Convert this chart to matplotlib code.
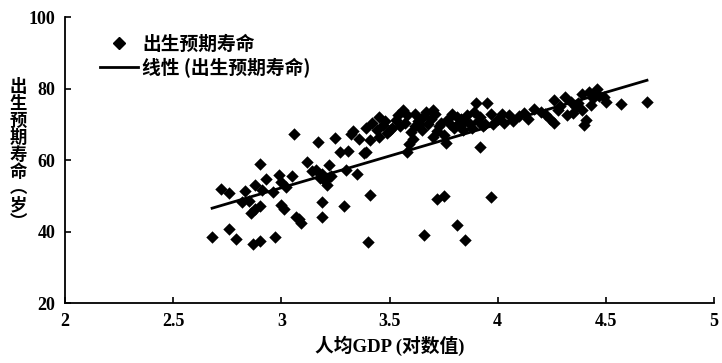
"""Life expectancy vs log GDP per capita, scatter with linear trend."""

import matplotlib

matplotlib.use("Agg")
import matplotlib.pyplot as plt  # noqa: E402
from matplotlib.lines import Line2D  # noqa: E402

# log10 GDP per capita and life expectancy (years)
log_gdp = [
    2.68, 2.72, 2.76, 2.76, 2.79, 2.83, 2.85, 2.82, 2.86, 2.88,
    2.90, 2.87, 2.90, 2.97, 2.90, 2.91, 2.93, 2.96, 2.99, 3.00,
    3.00, 3.01, 3.06, 3.07, 3.09, 3.08, 3.16, 3.17, 3.19, 3.19,
    3.18, 3.20, 3.21, 3.22, 3.19, 3.23, 3.25, 3.27, 3.29, 3.30,
    3.32, 3.35, 3.38, 3.39, 3.41, 3.40, 3.39, 3.42, 3.45, 3.44,
    3.45, 3.47, 3.49, 3.41, 3.48, 3.53, 3.56, 3.57, 3.58, 3.59,
    3.60, 3.62, 3.63, 3.65, 3.66, 3.66, 3.68, 3.70, 3.71, 3.72,
    3.73, 3.75, 3.75, 3.76, 3.77, 3.79, 3.80, 3.81, 3.82, 3.84,
    3.85, 3.86, 3.87, 3.89, 3.90, 3.92, 3.92, 3.93, 3.95, 3.97,
    3.97, 3.98, 4.00, 4.03, 4.05, 4.07, 4.10, 4.12, 4.17, 4.20,
    4.24, 4.26, 4.26, 4.31, 4.34, 4.36, 4.39, 4.42, 4.46, 4.49,
    4.50, 4.35, 4.39, 4.41, 4.40, 4.44, 4.47, 4.57, 4.69, 4.29,
    4.32, 3.31, 3.33, 3.36, 3.02, 3.05, 2.88, 3.12, 3.14, 3.51,
    3.54, 3.61, 3.67, 3.74, 3.83, 3.94, 4.02, 4.14, 4.22, 3.50,
    3.55, 3.58, 3.64, 3.69, 3.72, 3.78, 3.81, 3.85, 3.88, 3.91,
    3.62, 3.70, 4.37, 4.43, 4.45, 4.28,
]
life_exp = [
    38.6, 51.8, 50.8, 40.6, 37.8, 51.4, 48.6, 48.2, 45.2, 46.4,
    47.2, 36.4, 37.4, 38.5, 58.8, 51.6, 54.6, 51.0, 55.8, 53.8,
    47.4, 46.4, 67.3, 44.2, 42.4, 43.5, 57.2, 65.1, 48.3, 44.1,
    55.0, 54.2, 53.0, 58.6, 56.0, 55.5, 66.3, 62.3, 47.1, 57.2,
    67.4, 56.2, 61.9, 62.3, 50.2, 37.1, 68.9, 70.3, 72.1, 68.4,
    66.5, 69.8, 67.5, 65.6, 71.0, 71.2, 74.0, 70.5, 62.3, 64.5,
    67.8, 69.5, 71.0, 68.5, 39.0, 72.2, 70.0, 66.5, 72.8, 49.0,
    69.5, 49.9, 67.0, 64.7, 71.5, 73.0, 69.0, 41.8, 70.5, 68.5,
    37.6, 72.5, 70.0, 73.5, 76.0, 63.7, 72.0, 69.5, 76.0, 49.7,
    73.0, 70.0, 71.5, 70.5, 72.5, 71.0, 72.2, 73.1, 74.4, 73.5,
    71.6, 70.4, 76.7, 77.7, 76.3, 74.9, 78.6, 79.1, 80.0, 77.7,
    76.3, 73.1, 74.0, 71.3, 69.9, 77.5, 78.0, 75.8, 76.3, 75.0,
    72.5, 62.5, 68.0, 66.0, 52.5, 55.5, 53.0, 59.5, 57.0, 69.0,
    72.5, 66.0, 73.5, 70.5, 71.5, 70.0, 73.0, 71.5, 73.0, 68.5,
    69.5, 72.5, 70.0, 71.5, 68.0, 70.0, 72.0, 71.0, 69.0, 71.0,
    73.0, 74.0, 76.0, 75.5, 78.5, 74.0,
]

# linear trend as drawn on the chart
trend_slope = 17.8
trend_intercept = -1.16

x_ticks = [2, 2.5, 3, 3.5, 4, 4.5, 5]
x_ticklabels = ["2", "2.5", "3", "3.5", "4", "4.5", "5"]
y_ticks = [20, 40, 60, 80, 100]

series_label = "出生预期寿命"
trend_label = "线性 (出生预期寿命)"
x_label = "人均GDP (对数值)"
y_label = "出生预期寿命︵岁︶"


def main():
    plt.rcParams["font.family"] = ["Liberation Serif", "Noto Sans CJK SC", "DejaVu Sans"]

    fig = plt.figure(figsize=(7.22, 3.63), dpi=100)
    ax = fig.add_axes([0.090, 0.165, 0.899, 0.788])

    ax.scatter(log_gdp, life_exp, marker="D", s=40, color="black", linewidths=0, zorder=3)

    x0, x1 = min(log_gdp), max(log_gdp)
    ax.plot([x0, x1], [trend_slope * x0 + trend_intercept, trend_slope * x1 + trend_intercept],
            color="black", lw=2.0, zorder=4)

    ax.set_xlim(2, 5)
    ax.set_ylim(20, 100)
    ax.set_xticks(x_ticks)
    ax.set_xticklabels(x_ticklabels)
    ax.set_yticks(y_ticks)
    for side in ("top", "right"):
        ax.spines[side].set_visible(False)
    for side in ("left", "bottom"):
        ax.spines[side].set_linewidth(1.3)
    ax.tick_params(direction="in", length=4, width=1.2, pad=7)
    for lab in ax.get_xticklabels() + ax.get_yticklabels():
        lab.set_fontsize(13)
        lab.set_fontweight("bold")

    ax.set_xlabel(x_label, fontsize=13.5, fontweight="bold", labelpad=4)
    fig.text(18 / 722, 1 - 155 / 363, "\n".join(y_label), ha="center", va="center",
             fontsize=12.5, fontweight="bold", linespacing=0.92,
             family=["Noto Sans CJK SC", "DejaVu Sans"])

    handles = [
        Line2D([], [], marker="D", ls="none", color="black", markersize=6.5),
        Line2D([], [], color="black", lw=2.0),
    ]
    ax.legend(handles, [series_label, trend_label], loc="upper left",
              bbox_to_anchor=(100 / 722, 1 - 35 / 363), bbox_transform=fig.transFigure,
              frameon=False, borderpad=0, borderaxespad=0, handlelength=2.0,
              handletextpad=0.25, labelspacing=0.2,
              prop={"family": ["Noto Sans CJK SC", "DejaVu Sans"], "size": 13.5, "weight": "bold"})

    fig.savefig("out.png", dpi=100)
    print("saved out.png")


if __name__ == "__main__":
    main()
